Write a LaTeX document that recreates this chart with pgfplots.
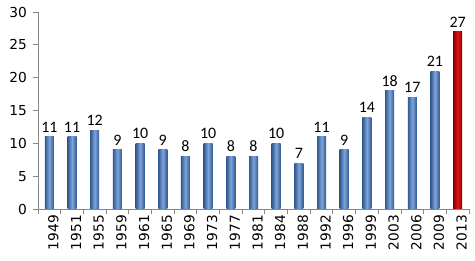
\documentclass[border=0pt]{standalone}
\usepackage{pgfplots}
\pgfplotsset{compat=1.18}
\usepackage{fontspec}
\setmainfont{DejaVu Sans}
\newfontfamily\calib{Carlito}
\definecolor{axgray}{RGB}{134,134,134}
\definecolor{bdark}{RGB}{50,90,145}
\definecolor{blight}{RGB}{125,165,220}
\definecolor{rdark}{RGB}{135,0,0}
\definecolor{rlight}{RGB}{225,20,20}
\pgfplotsset{
  bb/.style={bar shift=0pt, draw=none, left color=bdark, right color=bdark, middle color=blight},
  rb/.style={bar shift=0pt, draw=none, left color=rdark, right color=rdark, middle color=rlight},
}
\begin{document}
\begin{tikzpicture}
\useasboundingbox (0,0) rectangle (475bp,261bp);
\begin{axis}[
  at={(38bp,52bp)}, anchor=south west,
  scale only axis, width=431bp, height=197bp,
  ymin=0, ymax=30, ytick={0,5,...,30},
  xmin=-0.5, xmax=18.5,
  axis x line*=bottom, axis y line*=left,
  axis line style={axgray, line width=0.8pt, -},
  xtick={0,...,18},
  xticklabels={1949,1951,1955,1959,1961,1965,1969,1973,1977,1981,1984,1988,1992,1996,1999,2003,2006,2009,2013},
  x tick label style={rotate=90, anchor=east, font=\fontsize{13.8}{14}\selectfont, inner sep=1pt, xshift=0pt, yshift=-4bp},
  major x tick style={draw=none},
  minor xtick={-0.5,0.5,...,18.5},
  minor x tick style={axgray, line width=0.8pt},
  minor tick length=5bp,
  y tick label style={font=\fontsize{13.8}{14}\selectfont, inner sep=1pt, xshift=-5bp},
  major y tick style={axgray, line width=0.8pt},
  major tick length=5bp,
  tick align=outside,
  /pgf/number format/assume math mode=true,
  ybar, bar width=9bp,
  nodes near coords,
  every node near coord/.append style={font=\calib\fontsize{16}{17}\selectfont, text=black, yshift=1bp},
  clip=false,
]
\addplot[bb] coordinates {(0,11)};
\addplot[bb] coordinates {(1,11)};
\addplot[bb] coordinates {(2,12)};
\addplot[bb] coordinates {(3,9)};
\addplot[bb] coordinates {(4,10)};
\addplot[bb] coordinates {(5,9)};
\addplot[bb] coordinates {(6,8)};
\addplot[bb] coordinates {(7,10)};
\addplot[bb] coordinates {(8,8)};
\addplot[bb] coordinates {(9,8)};
\addplot[bb] coordinates {(10,10)};
\addplot[bb] coordinates {(11,7)};
\addplot[bb] coordinates {(12,11)};
\addplot[bb] coordinates {(13,9)};
\addplot[bb] coordinates {(14,14)};
\addplot[bb] coordinates {(15,18)};
\addplot[bb] coordinates {(16,17)};
\addplot[bb] coordinates {(17,21)};
\addplot[rb] coordinates {(18,27)};
\end{axis}
\end{tikzpicture}
\end{document}
